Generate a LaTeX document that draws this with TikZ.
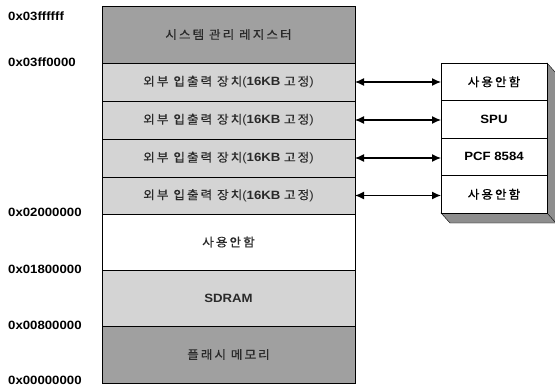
\documentclass[tikz,border=0pt]{standalone}
\usepackage{fontspec}
\setmainfont{Liberation Sans}[FakeStretch=1.1]
\newfontfamily\kr{Noto Sans CJK KR}[FakeStretch=1.05, LetterSpace=17, FakeBold=0.5]
\usetikzlibrary{shapes,arrows,arrows.meta,positioning}
\definecolor{memdark}{HTML}{A0A0A0}
\definecolor{memlight}{HTML}{D4D4D4}
\definecolor{memside}{HTML}{8E8E8E}
\definecolor{memtext}{HTML}{2A2A2A}

\begin{document}
\begin{tikzpicture}[x=1pt, y=-1pt, font=\fontsize{12}{14}\selectfont,
    block_dark/.style ={rectangle, draw=black, fill=memdark, text=memtext,
      minimum width=253pt, inner sep=0pt, outer sep=0pt},
    block_light/.style ={rectangle, draw=black, fill=memlight, text=memtext,
      minimum width=253pt, minimum height=38pt, inner sep=0pt, outer sep=0pt},
    block_clear/.style ={rectangle, draw=black, fill=white, text=memtext,
      minimum width=253pt, minimum height=56pt, inner sep=0pt, outer sep=0pt},
    block_dev/.style ={rectangle, draw=black, fill=white,
      minimum width=106pt, minimum height=37.5pt, inner sep=0pt, outer sep=0pt},
    block_addr/.style ={anchor=west, inner sep=0pt, font=\bfseries\fontsize{12}{14}\selectfont},
      line/.style ={draw, line width=1.2pt, {Latex[length=9pt,width=8pt]}-{Latex[length=9pt,width=8pt]}, shorten >=0pt}]
    \useasboundingbox (0,0) rectangle (555,386);
    % memory map, top to bottom
    \node [block_dark, minimum height=57pt] (sysreg) at (228.5,34.5) {\kr 시스템 관리 레지스터};
    \node [block_light, below=0pt of sysreg] (io1) {{\kr 외부 입출력 장치}(\textbf{16KB} {\kr 고정})};
    \node [block_light, below=0pt of io1] (io2) {{\kr 외부 입출력 장치}(\textbf{16KB} {\kr 고정})};
    \node [block_light, below=0pt of io2] (io3) {{\kr 외부 입출력 장치}(\textbf{16KB} {\kr 고정})};
    \node [block_light, below=0pt of io3, minimum height=37pt] (io4) {{\kr 외부 입출력 장치}(\textbf{16KB} {\kr 고정})};
    \node [block_clear, below=0pt of io4] (unused) {\kr 사용안함};
    \node [block_light, below=0pt of unused, minimum height=56pt] (sdram) {\textbf{SDRAM}};
    \node [block_dark, below=0pt of sdram, minimum height=57pt] (flash) {\kr 플래시 메모리};
    % address labels
    \node [block_addr] (addr_top) at (8,16) {0x03ffffff};
    \node [block_addr] (addr_sys) at (8,62) {0x03ff0000};
    \node [block_addr] (addr_io) at (8,212) {0x02000000};
    \node [block_addr] (addr_unused) at (8,269) {0x01800000};
    \node [block_addr] (addr_sdram) at (8,325) {0x00800000};
    \node [block_addr] (addr_zero) at (8,380) {0x00000000};
    % devices on the right, with the 3d side faces
    \fill [memside, draw=black] (494,63) ++(53,0) -- ++(9,10) -- ++(0,150) -- ++(-106,0) -- ++(-9,-10) -- cycle;
    \node [block_dev] (dev1) at (494,81.75) {\kr 사용안함};
    \node [block_dev, below=0pt of dev1] (dev2) {\textbf{SPU}};
    \node [block_dev, below=0pt of dev2] (dev3) {\textbf{PCF 8584}};
    \node [block_dev, below=0pt of dev3] (dev4) {\kr 사용안함};
    \draw (dev4.south east) -- ++(9,10);
    % connecting io slots with devices
    \begin{scope}[every path/.style=line]
      \path (io1.east) -- (io1.east -| dev1.west);
      \path (io2.east) -- (io2.east -| dev2.west);
			\path (io3.east) -- (io3.east -| dev3.west);
			\path (io4.east) -- (io4.east -| dev4.west);
    \end{scope}
  \end{tikzpicture}
\end{document}
